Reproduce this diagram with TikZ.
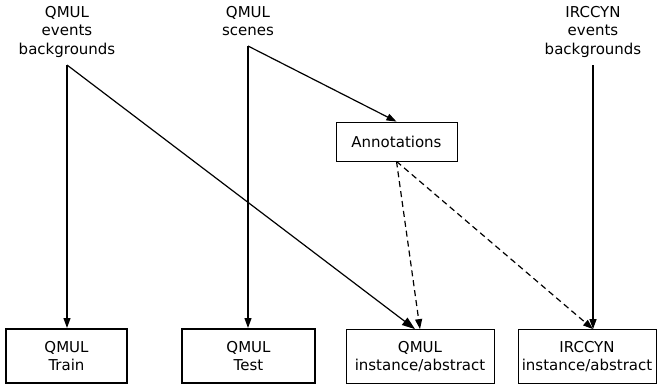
\documentclass[tikz,border=0pt]{standalone}
\usepackage{fontspec}
\setmainfont{DejaVu Sans}
\usetikzlibrary{arrows.meta}
\begin{document}
\begin{tikzpicture}[x=1pt,y=-1pt,
  every node/.style={font=\fontsize{15}{18.5}\selectfont, align=center},
  src/.style={inner sep=0pt},
  box/.style={draw, line width=0.8pt, minimum height=54pt, inner sep=0pt},
  tbox/.style={box, line width=2pt},
  arr/.style={line width=1.2pt, -{Triangle[length=10pt,width=7pt]}},
  barr/.style={line width=1.2pt, -{Triangle[length=13pt,width=9pt]}},
  darr/.style={arr, dashed, dash pattern=on 6pt off 4pt}]
\useasboundingbox (0,0) rectangle (662,388);
\node[src, anchor=north] (qe) at (67,6) {QMUL\\events\\backgrounds};
\node[src, anchor=north] (qs) at (248,6) {QMUL\\scenes};
\node[src, anchor=north] (ie) at (593,6) {IRCCYN\\events\\backgrounds};
\node[draw, line width=0.8pt, minimum width=121pt, minimum height=39pt, inner sep=0pt] (an) at (396.5,141.5) {Annotations};
\node[tbox, minimum width=121pt] (tr) at (66.5,356) {QMUL\\Train};
\node[tbox, minimum width=133pt] (te) at (248.5,356) {QMUL\\Test};
\node[box, minimum width=148pt] (qi) at (420,356.5) {QMUL\\instance/abstract};
\node[box, minimum width=138pt] (ii) at (587,356.5) {IRCCYN\\instance/abstract};
\coordinate (qeo) at (67,65);
\coordinate (qso) at (248,46);
\coordinate (ieo) at (593,65);
\draw[arr] (qeo) -- (tr.north -| qeo);
\draw[barr] (qeo) -- ([xshift=-5pt]qi.north);
\draw[arr] (qso) -- (te.north -| qso);
\draw[arr] (qso) -- (an.north);
\draw[darr] (an.south) -- (qi.north);
\draw[darr] (an.south) -- (ii.north -| ieo);
\draw[arr] (ieo) -- (ii.north -| ieo);
\end{tikzpicture}
\end{document}
